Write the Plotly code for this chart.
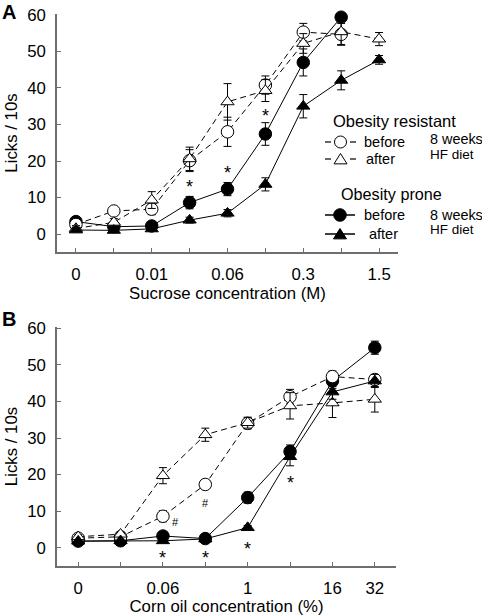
import plotly.graph_objects as go

# ---------------- data ----------------
# Panel A: sucrose
sucrose_ticks = ["0", "", "0.01", "", "0.06", "", "0.3", "", "1.5"]
A_or_before = [2.6, 6.3, 6.8, 20.1, 28.0, 40.8, 55.3, 54.7]
A_or_before_err = [0.8, 1.0, 1.5, 3.0, 4.0, 2.5, 2.4, 3.0]
A_or_after = [1.5, 3.2, 9.3, 20.6, 36.2, 39.3, 52.2, 55.4, 53.4]
A_or_after_err = [0.8, 1.0, 2.3, 3.2, 5.0, 3.0, 2.7, 3.5, 1.8]
A_op_before = [3.4, 2.0, 2.2, 8.6, 12.3, 27.4, 47.0, 59.4]
A_op_before_err = [0.6, 0.5, 0.6, 1.7, 1.8, 3.1, 3.7, 1.0]
A_op_after = [1.1, 1.0, 1.4, 3.8, 5.7, 13.6, 35.0, 42.1, 47.7]
A_op_after_err = [0.5, 0.4, 0.5, 0.8, 1.0, 1.8, 3.2, 2.6, 1.2]
A_star_idx = [3, 4, 5]
A_star_y = [12.8, 16.6, 32.3]

# Panel B: corn oil
oil_ticks = ["0", "", "0.06", "", "1", "", "16", "32"]
B_or_before = [2.6, 3.0, 8.6, 17.3, 34.0, 41.3, 46.8, 46.0]
B_or_before_err = [0.5, 0.5, 1.5, 1.0, 1.5, 2.0, 1.5, 1.2]
B_or_after = [3.0, 3.7, 19.7, 30.9, 34.2, 38.8, 39.6, 40.6]
B_or_after_err = [0.5, 0.5, 2.2, 1.8, 1.5, 3.6, 4.0, 3.5]
B_op_before = [1.8, 1.9, 3.2, 2.5, 13.7, 26.3, 45.6, 54.7]
B_op_before_err = [0.4, 0.4, 0.6, 0.6, 1.5, 1.8, 1.5, 1.8]
B_op_after = [1.8, 1.9, 1.9, 2.4, 5.5, 24.9, 42.6, 45.6]
B_op_after_err = [0.4, 0.4, 0.4, 0.4, 0.6, 2.5, 2.0, 1.8]
B_star_idx = [2, 3, 4, 5]
B_star_y = [-2.9, -2.9, -0.4, 17.6]
B_hash_idx = [2.3, 3.0]
B_hash_y = [7.1, 12.1]

FONT = "Liberation Sans, Arial, sans-serif"
FS = 16.8
LFS = 14.5
AX = "#6e6e6e"
DASH = "6px,4px"

W, H = 482, 616
ML, MR, MT, MB = 57, 84, 14, 50
PW, PH = W - ML - MR, H - MT - MB


def px(x):
    return (x - ML) / PW


def py(y):
    return 1 - (y - MT) / PH


fig = go.Figure()


def add_series(vals, errs, xa, ya, symbol, filled, dashed):
    fig.add_trace(go.Scatter(
        x=list(range(len(vals))), y=vals, xaxis=xa, yaxis=ya,
        mode="lines+markers",
        line=dict(color="black", width=1, dash=DASH if dashed else "solid"),
        marker=dict(symbol=symbol, size=12.5 if symbol == "circle" else 11.5,
                    color="black" if filled else "white",
                    line=dict(color="black", width=1)),
        error_y=dict(type="data", array=errs, color="black", thickness=1, width=4),
        showlegend=False, cliponaxis=False, hoverinfo="skip",
    ))


# drawing order: OP before, OR before, OR after, OP after
add_series(A_op_before, A_op_before_err, "x", "y", "circle", True, False)
add_series(A_or_before, A_or_before_err, "x", "y", "circle", False, True)
add_series(A_or_after, A_or_after_err, "x", "y", "triangle-up", False, True)
add_series(A_op_after, A_op_after_err, "x", "y", "triangle-up", True, False)

add_series(B_op_before, B_op_before_err, "x2", "y2", "circle", True, False)
add_series(B_or_before, B_or_before_err, "x2", "y2", "circle", False, True)
add_series(B_or_after, B_or_after_err, "x2", "y2", "triangle-up", False, True)
add_series(B_op_after, B_op_after_err, "x2", "y2", "triangle-up", True, False)

axis_common = dict(showline=True, linecolor=AX, linewidth=1.5, ticks="inside",
                   tickcolor=AX, ticklen=4, tickwidth=1.2, showgrid=False,
                   zeroline=False, tickfont=dict(family=FONT, size=FS, color="black"),
                   automargin=False)

dom_A = [py(252), 1.0]
dom_B = [0.0, py(327)]

fig.update_layout(
    width=W, height=H,
    margin=dict(l=ML, r=MR, t=MT, b=MB),
    plot_bgcolor="white", paper_bgcolor="white",
    font=dict(family=FONT, size=FS, color="black"),
    xaxis=dict(domain=[0, 1], range=[-0.5, 8.5], anchor="y",
               tickmode="array", tickvals=list(range(len(sucrose_ticks))),
               ticktext=sucrose_ticks, ticklabelstandoff=6,
               title=dict(text="Sucrose concentration (M)", standoff=4,
                          font=dict(family=FONT, size=FS)),
               **axis_common),
    yaxis=dict(domain=dom_A, range=[-4.93, 60.27], anchor="x",
               tickmode="array", tickvals=[0, 10, 20, 30, 40, 50, 60],
               ticklabelstandoff=6,
               title=dict(text="Licks / 10s", standoff=5,
                          font=dict(family=FONT, size=FS)),
               **axis_common),
    xaxis2=dict(domain=[0, 339 / PW], range=[-0.5, 7.5], anchor="y2",
                tickmode="array", tickvals=list(range(len(oil_ticks))),
                ticktext=oil_ticks, ticklabelstandoff=6,
                title=dict(text="Corn oil concentration (%)", standoff=4,
                           font=dict(family=FONT, size=FS)),
                **axis_common),
    yaxis2=dict(domain=dom_B, range=[-5.0, 60.36], anchor="x2",
                tickmode="array", tickvals=[0, 10, 20, 30, 40, 50, 60],
                ticklabelstandoff=6,
                title=dict(text="Licks / 10s", standoff=5,
                           font=dict(family=FONT, size=FS)),
                **axis_common),
)

ann = []
# significance marks
for i, y in zip(A_star_idx, A_star_y):
    ann.append(dict(x=i, y=y, xref="x", yref="y", text="*", showarrow=False,
                    font=dict(size=18, family=FONT)))
for i, y in zip(B_star_idx, B_star_y):
    ann.append(dict(x=i, y=y, xref="x2", yref="y2", text="*", showarrow=False,
                    font=dict(size=18, family=FONT)))
for i, y in zip(B_hash_idx, B_hash_y):
    ann.append(dict(x=i, y=y, xref="x2", yref="y2", text="#", showarrow=False,
                    font=dict(size=11, family=FONT)))

# panel letters
ann.append(dict(x=px(0), y=py(12), xref="paper", yref="paper", text="<b>A</b>",
                showarrow=False, xanchor="left", yanchor="middle",
                font=dict(size=20, family=FONT)))
ann.append(dict(x=px(0), y=py(319), xref="paper", yref="paper", text="<b>B</b>",
                showarrow=False, xanchor="left", yanchor="middle",
                font=dict(size=20, family=FONT)))


def txt(x, y, t, anchor="left", size=FS):
    ann.append(dict(x=px(x), y=py(y), xref="paper", yref="paper", text=t,
                    showarrow=False, xanchor=anchor, yanchor="middle",
                    font=dict(size=size, family=FONT)))


txt(331, 121, "Obesity resistant", size=16.5)
txt(362, 142, "before", size=LFS)
txt(364, 159, "after", size=LFS)
txt(428, 139, "8 weeks", size=14.4)
txt(428, 154, "HF diet", size=13.5)
txt(339, 194, "Obesity prone", size=16.2)
txt(362, 215, "before", size=LFS)
txt(367, 234, "after", size=LFS)
txt(428, 215, "8 weeks", size=14.4)
txt(428, 230, "HF diet", size=13.5)
fig.update_layout(annotations=ann)

# legend glyphs (shapes in paper coordinates)
shapes = []


def seg(x0, x1, y, w=1.5):
    shapes.append(dict(type="line", xref="paper", yref="paper",
                       x0=px(x0), x1=px(x1), y0=py(y), y1=py(y),
                       line=dict(color="black", width=w)))


def circ(cx, cy, r, fill):
    shapes.append(dict(type="circle", xref="paper", yref="paper",
                       x0=px(cx - r), x1=px(cx + r), y0=py(cy + r), y1=py(cy - r),
                       fillcolor=fill, line=dict(color="black", width=1)))


def tri(cx, cy, r, fill):
    path = "M {:.5f},{:.5f} L {:.5f},{:.5f} L {:.5f},{:.5f} Z".format(
        px(cx - r), py(cy + r * 0.75), px(cx + r), py(cy + r * 0.75),
        px(cx), py(cy - r * 0.85))
    shapes.append(dict(type="path", xref="paper", yref="paper", path=path,
                       fillcolor=fill, line=dict(color="black", width=1)))


seg(325, 331, 142, 1.2)
seg(350, 356, 142, 1.2)
circ(340.5, 142, 6, "white")
seg(325, 331, 159, 1.2)
seg(350, 356, 159, 1.2)
tri(340.5, 159, 6.5, "white")
seg(325, 355, 215)
circ(340, 215, 6.3, "black")
seg(325, 355, 234)
tri(340, 234, 6.5, "black")
fig.update_layout(shapes=shapes)

fig.write_html("out.html",
               config={"displayModeBar": False},
               post_script="document.body.style.margin='0px';"
                           "document.body.style.overflow='hidden';")
